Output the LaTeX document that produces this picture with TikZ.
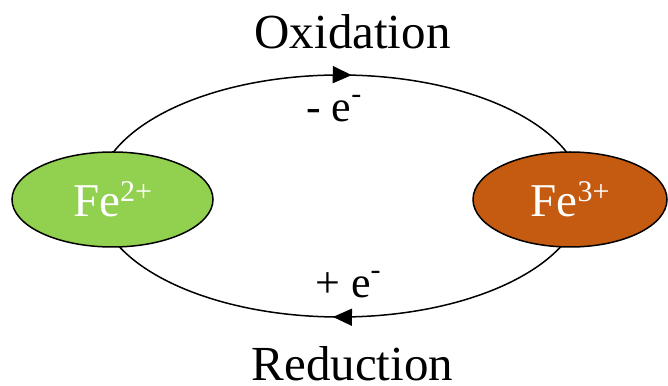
\documentclass[tikz,border=0pt]{standalone}
\usepackage{fontspec}
\setmainfont{Liberation Serif}
\usetikzlibrary{shapes.geometric,arrows.meta,decorations.markings}
\definecolor{fegreen}{HTML}{92D050}
\definecolor{feorange}{HTML}{C55A11}
\newcommand{\ionsup}[1]{\raisebox{0.33em}{\fontsize{30}{30}\selectfont #1}}
\newcommand{\esup}[1]{\raisebox{0.42em}{\fontsize{30}{30}\selectfont #1}}
\begin{document}
\begin{tikzpicture}[x=1pt,y=1pt,
  ion/.style={ellipse, draw=black, line width=1.5pt, minimum width=#1, minimum height=95pt, inner sep=0pt, text=white, font=\fontsize{47}{50}\selectfont},
  lbl/.style={font=\fontsize{49}{55}\selectfont, inner sep=0pt, anchor=base},
  elab/.style={font=\fontsize{44}{50}\selectfont, inner sep=0pt, anchor=base west},
  cyc/.style={line width=1.5pt, postaction={decorate}}
]
\useasboundingbox (0,0) rectangle (668,385);
\coordinate (cL) at (97,189);
\coordinate (cR) at (583,189);
\draw[cyc, decoration={markings, mark=at position 0.52 with {\arrow{Triangle[length=19pt,width=17pt]}}}]
  (cL) arc[start angle=180, end angle=0, x radius=243pt, y radius=121pt];
\draw[cyc, decoration={markings, mark=at position 0.512 with {\arrow{Triangle[length=19pt,width=17pt]}}}]
  (cR) arc[start angle=0, end angle=-180, x radius=243pt, y radius=121pt];
\node[ion=201pt, fill=fegreen] (fe2) at (112.5,185.5) {Fe\ionsup{2+}};
\node[ion=194pt, fill=feorange] (fe3) at (570,185.5) {Fe\ionsup{3+}};
\node[lbl] (ox) at (352.5,336) {Oxidation};
\node[lbl, text depth=0pt] (red) at (352.5,5) {Reduction};
\node[elab] (minus) at (306,263) {- e\esup{-}};
\node[elab] (plus) at (315,87) {+ e\esup{-}};
\end{tikzpicture}
\end{document}
